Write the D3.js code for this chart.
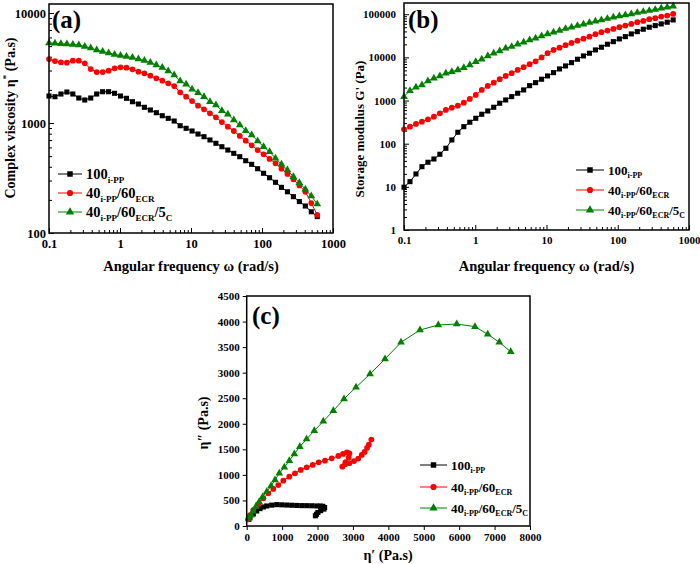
<!DOCTYPE html>
<html><head><meta charset="utf-8">
<script src="https://cdn.jsdelivr.net/npm/d3@7"></script>
<style>body{margin:0;background:#fff}svg{display:block}text{font-family:"Liberation Serif","Times New Roman",serif;font-weight:bold;fill:#000}</style>
</head><body>
<script>
// ---------- DATA ----------
const freq = [0.1,0.1213,0.1472,0.1786,0.2167,0.2629,0.319,0.387,0.4696,0.5697,0.6912,0.8387,1.017,1.234,1.498,1.817,2.205,2.675,3.246,3.938,4.778,5.797,7.033,8.533,10.35,12.56,15.24,18.49,22.43,27.22,33.02,40.06,48.61,58.97,71.55,86.81,105.3,127.8,155.0,188.1,228.2,276.9,335.9,407.6,494.5,600.0];
const etaBlack = [1760,1734,1835,1913,1835,1688,1619,1688,1835,1925,1925,1862,1760,1677,1562,1488,1389,1313,1241,1165,1103,1043,945,895,846,794,751,701,654,609,568,530,494,454,421,384,349,318,289,260,237,214,193,176,156,141];
const etaRed = [3817,3661,3563,3534,3685,3685,3489,3097,2909,2909,2989,3144,3210,3183,3077,2927,2830,2692,2549,2424,2296,2170,1901,1734,1585,1436,1332,1225,1127,1021,926,846,762,690,627,568,519,471,430,384,344,308,271,237,187,146];
const etaGreen = [5337,5303,5259,5226,5171,5118,4960,4807,4609,4467,4329,4195,4108,4023,3940,3817,3700,3548,3368,3195,2970,2732,2409,2248,2025,1886,1734,1562,1458,1294,1200,1065,959,851,778,686,609,548,478,421,374,325,287,250,217,183];
const gBlack = [9.8,13.2,19.9,29.3,37.1,44.2,56.9,78.3,122,184,248,314,388,481,573,699,865,1031,1230,1475,1760,2213,2597,3114,3713,4430,5397,6332,7553,9058,10800,12470,14880,17180,20160,23170,26760,30250,34950,39520,44910,49960,54420,59600,65260,73790];
const gRed = [216,248,287,324,368,423,507,605,684,761,893,1088,1347,1760,2178,2597,3114,3713,4290,5116,5908,6934,8100,10000,12500,14880,16820,19120,21610,24430,27190,30250,34400,38260,41680,45640,49960,54420,59600,65260,69960,76600,80800,87990,92800,101600];
const gGreen = [1230,1694,2032,2297,2844,3285,3713,4290,4672,5116,5783,6680,7966,9058,10800,12470,14100,16290,17740,20160,22440,25370,27780,31400,34950,38260,41680,46370,49960,54420,58650,63900,68830,73790,79070,85200,91330,96340,101600,108900,114900,121200,127900,137800,145400,153000];
const ep1Black = [60,93,186,282,376,469,565,706,847,988,1130,1271,1412,1553,1694,1836,1977,2080,2150,2200,2180,2090,2010,1970,1940];
const ep2Black = [130,165,235,295,340,372,392,408,418,414,410,406,402,399,398,396,392,390,385,362,330,300,265,230,200];
const ep1Red = [40,93,186,328,469,610,751,892,1034,1203,1364,1525,1694,1864,2033,2211,2400,2587,2720,2830,2900,2880,2790,2700,2780,2900,3030,3150,3250,3330,3400,3450,3520];
const ep2Red = [130,215,313,430,541,639,724,802,886,965,1031,1096,1148,1194,1246,1278,1324,1370,1410,1440,1420,1340,1250,1160,1210,1230,1270,1320,1390,1450,1530,1590,1690];
const ep1Green = [60,120,180,260,350,450,565,686,799,921,1062,1204,1345,1500,1690,1909,2163,2446,2748,3087,3482,3906,4358,4894,5411,5930,6447,6806,7134,7456];
const ep2Green = [150,210,290,380,470,570,671,783,900,1031,1148,1278,1409,1552,1700,1865,2048,2256,2485,2714,2974,3267,3594,3835,3933,3952,3900,3751,3594,3410];
const xTicksLog = [0.1,1,10,100,1000];
const yTicksA = [100,1000,10000];
const yTicksB = [1,10,100,1000,10000,100000];
const xTicksC = [0,1000,2000,3000,4000,5000,6000,7000,8000];
const yTicksC = [0,500,1000,1500,2000,2500,3000,3500,4000,4500];
const legendLabels = [
  [["100",0],["i-PP",1]],
  [["40",0],["i-PP",1],["/60",0],["ECR",1]],
  [["40",0],["i-PP",1],["/60",0],["ECR",1],["/5",0],["C",1]]
];
const colors = ["#000000","#ff0000","#008000"];
const symbols = [d3.symbolSquare, d3.symbolCircle, d3.symbolTriangle];
const symSizes = [26, 26, 26];

// ---------- DRAW ----------
const svg = d3.select("body").append("svg").attr("width",700).attr("height",564);

function minorTicks(dom){
  const out=[]; const lo=Math.floor(Math.log10(dom[0])), hi=Math.ceil(Math.log10(dom[1]));
  for(let e=lo;e<=hi;e++) for(let m=2;m<=9;m++){const v=m*Math.pow(10,e); if(v>=dom[0]&&v<=dom[1]) out.push(v);}
  return out;
}
function frame(x0,x1,y0,y1){
  svg.append("rect").attr("x",x0).attr("y",y0).attr("width",x1-x0).attr("height",y1-y0)
    .attr("fill","none").attr("stroke","#000").attr("stroke-width",1.5);
}
function series(xs, ys, xv, yv, i, sym){
  const pts = xv.map((v,k)=>[xs(v), ys(yv[k])]);
  svg.append("path").attr("d", d3.line()(pts)).attr("fill","none").attr("stroke",colors[i]).attr("stroke-width",1);
  svg.append("g").selectAll("path").data(pts).join("path")
    .attr("transform",d=>`translate(${d[0]},${d[1]})`)
    .attr("d", d3.symbol(symbols[i], sym))
    .attr("fill",colors[i]);
}
function legend(x, ys, fs, sub, lineLen){
  legendLabels.forEach((lab,i)=>{
    const y = ys[i];
    svg.append("line").attr("x1",x).attr("x2",x+lineLen).attr("y1",y).attr("y2",y).attr("stroke",colors[i]).attr("stroke-width",1);
    svg.append("path").attr("transform",`translate(${x+lineLen/2},${y})`).attr("d",d3.symbol(symbols[i],30)).attr("fill",colors[i]);
    const t = svg.append("text").attr("x",x+lineLen+4).attr("y",y+fs*0.35).style("font-size",fs+"px");
    let prevSub=false;
    lab.forEach(([s,isSub])=>{
      const ts=t.append("tspan").text(s);
      if(isSub){ ts.style("font-size",sub+"px").attr("dy", prevSub?0:fs*0.3); }
      else { ts.attr("dy", prevSub?-fs*0.3:0); }
      prevSub=!!isSub;
    });
  });
}
function styleAxis(g, fs){
  g.select(".domain").remove();
  g.selectAll("line").attr("stroke","#000").attr("stroke-width",1);
  g.selectAll("text").style("font-size",fs+"px").style("font-family",'"Liberation Serif","Times New Roman",serif').style("font-weight","bold");
}
const fmtLog = d=> d<1? "0.1" : d3.format("d")(d);

// Panel (a)
{
  const x0=49,x1=333,y0=4,y1=233;
  const xs=d3.scaleLog().domain([0.1,1000]).range([x0,x1]);
  const ys=d3.scaleLog().domain([100,12080]).range([y1,y0]);
  let g=svg.append("g").attr("transform",`translate(0,${y1})`).call(d3.axisBottom(xs).tickValues(xTicksLog).tickFormat(fmtLog).tickSize(-5).tickPadding(6));
  styleAxis(g,12.5);
  g=svg.append("g").attr("transform",`translate(0,${y1})`).call(d3.axisBottom(xs).tickValues(minorTicks([0.1,1000])).tickFormat("").tickSize(-3));
  styleAxis(g,12);
  g=svg.append("g").attr("transform",`translate(${x0},0)`).call(d3.axisLeft(ys).tickValues(yTicksA).tickFormat(d3.format("d")).tickSize(-5).tickPadding(3));
  styleAxis(g,12.5);
  g=svg.append("g").attr("transform",`translate(${x0},0)`).call(d3.axisLeft(ys).tickValues(minorTicks([100,12080])).tickFormat("").tickSize(-3));
  styleAxis(g,12);
  series(xs,ys,freq,etaBlack,0,symSizes[0]);
  series(xs,ys,freq,etaRed,1,symSizes[1]);
  series(xs,ys,freq,etaGreen,2,symSizes[2]);
  frame(x0,x1,y0,y1);
  svg.append("text").attr("x",52).attr("y",28).style("font-size","25px").text("(a)");
  svg.append("text").attr("x",(x0+x1)/2).attr("y",271).attr("text-anchor","middle").style("font-size","14.5px").text("Angular frequency ω (rad/s)");
  const t=svg.append("text").attr("transform","translate(15,118) rotate(-90)").attr("text-anchor","middle").style("font-size","14px");
  t.append("tspan").text("Complex viscosity η");
  t.append("tspan").text("*").style("font-size","9px").attr("dy",-6);
  t.append("tspan").text(" (Pa.s)").attr("dy",6);
  legend(58,[174,193,212],14.5,9,24);
}
// Panel (b)
{
  const x0=404,x1=689,y0=3,y1=230;
  const top=Math.pow(10,5.26);
  const xs=d3.scaleLog().domain([0.1,1000]).range([x0,x1]);
  const ys=d3.scaleLog().domain([1,top]).range([y1,y0]);
  let g=svg.append("g").attr("transform",`translate(0,${y1})`).call(d3.axisBottom(xs).tickValues(xTicksLog).tickFormat(fmtLog).tickSize(-5).tickPadding(6));
  styleAxis(g,11);
  g=svg.append("g").attr("transform",`translate(0,${y1})`).call(d3.axisBottom(xs).tickValues(minorTicks([0.1,1000])).tickFormat("").tickSize(-3));
  styleAxis(g,11);
  g=svg.append("g").attr("transform",`translate(${x0},0)`).call(d3.axisLeft(ys).tickValues(yTicksB).tickFormat(d3.format("d")).tickSize(-5).tickPadding(8));
  styleAxis(g,11);
  g=svg.append("g").attr("transform",`translate(${x0},0)`).call(d3.axisLeft(ys).tickValues(minorTicks([1,top])).tickFormat("").tickSize(-3));
  styleAxis(g,11);
  series(xs,ys,freq,gBlack,0,symSizes[0]);
  series(xs,ys,freq,gRed,1,symSizes[1]);
  series(xs,ys,freq,gGreen,2,symSizes[2]);
  frame(x0,x1,y0,y1);
  svg.append("text").attr("x",408).attr("y",28).style("font-size","25px").text("(b)");
  svg.append("text").attr("x",(x0+x1)/2).attr("y",271).attr("text-anchor","middle").style("font-size","14.5px").text("Angular frequency ω (rad/s)");
  svg.append("text").attr("transform","translate(364,129) rotate(-90)").attr("text-anchor","middle").style("font-size","13px").text("Storage modulus G' (Pa)");
  legend(576,[170,190,210],13,8,28);
}
// Panel (c)
{
  const x0=246.7,x1=530,y0=296,y1=526;
  const xs=d3.scaleLinear().domain([0,8000]).range([x0,x1]);
  const ys=d3.scaleLinear().domain([0,4500]).range([y1,y0]);
  let g=svg.append("g").attr("transform",`translate(0,${y1})`).call(d3.axisBottom(xs).tickValues(xTicksC).tickFormat(d3.format("d")).tickSize(4).tickPadding(3));
  styleAxis(g,11);
  g=svg.append("g").attr("transform",`translate(${x0},0)`).call(d3.axisLeft(ys).tickValues(yTicksC).tickFormat(d3.format("d")).tickSize(4).tickPadding(3));
  styleAxis(g,11);
  series(xs,ys,ep1Black,ep2Black,0,symSizes[0]);
  series(xs,ys,ep1Red,ep2Red,1,symSizes[1]);
  series(xs,ys,ep1Green,ep2Green,2,symSizes[2]);
  frame(x0,x1,y0,y1);
  svg.append("text").attr("x",252).attr("y",324).style("font-size","25px").text("(c)");
  svg.append("text").attr("x",388).attr("y",560).attr("text-anchor","middle").style("font-size","14px").text("η′ (Pa.s)");
  svg.append("text").attr("transform","translate(208,423) rotate(-90)").attr("text-anchor","middle").style("font-size","14px").text("η″ (Pa.s)");
  legend(420,[465,487,508],13,8,27);
}
</script>
</body></html>
